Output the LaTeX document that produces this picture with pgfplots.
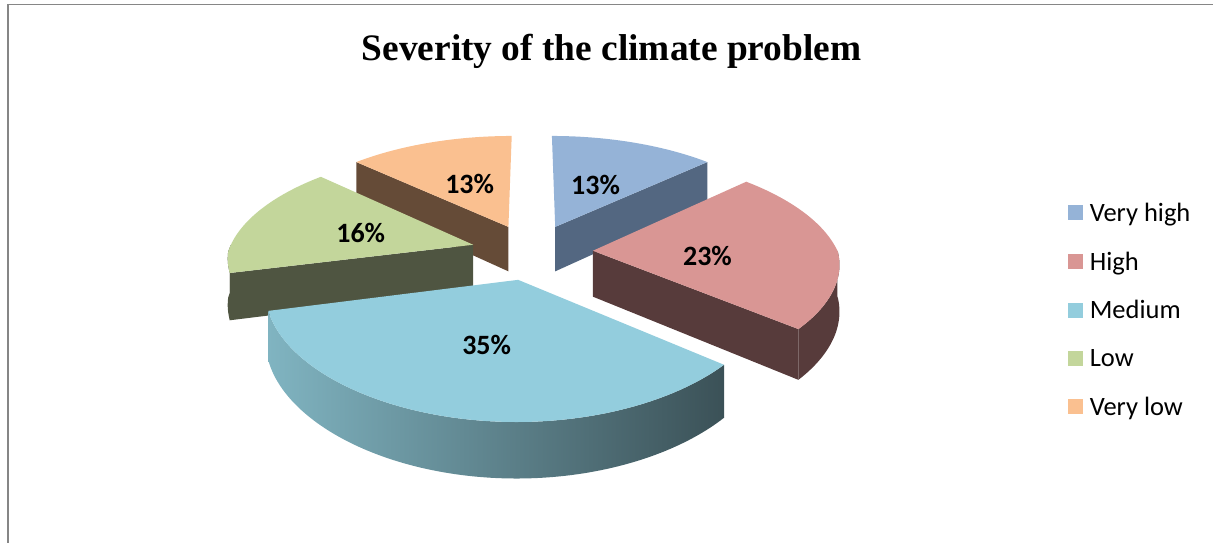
\documentclass[border=0pt]{standalone}
\usepackage{fontspec}
\setmainfont{Carlito}
\newfontfamily\titlefont{Liberation Serif}
\usepackage{pgfplots}
\usepackage{pgfplotstable}
\pgfplotsset{compat=1.18}

\definecolor{vhTop}{HTML}{95B3D7}\definecolor{vhSide}{HTML}{536781}
\definecolor{hiTop}{HTML}{D99694}\definecolor{hiSide}{HTML}{573B3B}
\definecolor{meTop}{HTML}{93CDDD}\definecolor{meLight}{HTML}{80B4C1}\definecolor{meDark}{HTML}{3B5157}
\definecolor{loTop}{HTML}{C3D69B}\definecolor{loSide}{HTML}{4F5541}
\definecolor{vlTop}{HTML}{FAC090}\definecolor{vlSide}{HTML}{654B37}
\definecolor{frameGray}{HTML}{868686}

% answers to "how severe is the climate problem?" (per cent)
\pgfplotstableread[col sep=comma]{
label,share
Very high,13
High,23
Medium,35
Low,16
Very low,13
}\severity

\pgfplotstablegetelem{0}{share}\of\severity\let\sA\pgfplotsretval
\pgfplotstablegetelem{1}{share}\of\severity\let\sB\pgfplotsretval
\pgfplotstablegetelem{2}{share}\of\severity\let\sC\pgfplotsretval
\pgfplotstablegetelem{3}{share}\of\severity\let\sD\pgfplotsretval
\pgfplotstablegetelem{4}{share}\of\severity\let\sE\pgfplotsretval

% slice boundaries, degrees clockwise from twelve o'clock
\pgfmathsetmacro\tA{0}
\pgfmathsetmacro\tB{\tA+3.6*\sA}
\pgfmathsetmacro\tC{\tB+3.6*\sB}
\pgfmathsetmacro\tD{\tC+3.6*\sC}
\pgfmathsetmacro\tE{\tD+3.6*\sD}
\pgfmathsetmacro\tF{\tE+3.6*\sE}
% slice bisectors (direction in which each slice is pulled out)
\pgfmathsetmacro\mA{(\tA+\tB)/2}
\pgfmathsetmacro\mB{(\tB+\tC)/2}
\pgfmathsetmacro\mC{(\tC+\tD)/2}
\pgfmathsetmacro\mD{(\tD+\tE)/2}
\pgfmathsetmacro\mE{(\tE+\tF)/2}

% one patch of an exploded slice, seen in perspective from above
% #1 bisector, #2 angle, #3 radius, #4 lower-edge flag, #5 style
\newcommand\piepart[5]{%
  \addplot[forget plot, draw=none, #5]
    ({px(0.25*sin(#1)+(#3)*sin(#2), 0.25*cos(#1)+(#3)*cos(#2))},
     {py(0.25*cos(#1)+(#3)*cos(#2), #4)});
}
% top face: bisector, from, to, colour
\newcommand\pietop[4]{%
  \piepart{#1}{(#2)+((#3)-(#2))*min(\t,1)}{(\t<1.005)}{0}%
    {fill=#4, domain=0:1.02, samples=103}}
% radial cut face: bisector, angle, colour
\newcommand\pieface[3]{%
  \piepart{#1}{#2}{(\t>0.5)*(\t<2.5)}{(\t>1.5)}%
    {fill=#3, samples at={0,1,2,3}}}
% outer rim: bisector, from, to, style
\newcommand\pierim[4]{%
  \piepart{#1}{(#2)+((#3)-(#2))*((\t<1.005)*min(\t,1)+(\t>1.005)*(2.01-\t))}{1}{(\t>1.005)}%
    {#4, domain=0:2.01, samples=202}}

\begin{document}
\begin{tikzpicture}
\begin{axis}[
  scale only axis, width=1214pt, height=543pt,
  xmin=0, xmax=1214, ymin=0, ymax=543, y dir=reverse,
  hide axis, clip=false, variable=\t,
  declare function={
    px(\X,\Z)=532.2+245*\X/(1+0.1*\Z+0.07*max(\Z,0));
    py(\Z,\b)=251.8+(\b*46-111.5*\Z)/(1+0.15*\Z);
  },
  legend image code/.code={\fill[#1] (0pt,-7.5pt) rectangle (15pt,7.5pt);},
  legend style={at={(axis cs:1068.6,203)}, anchor=north west,
    draw=none, fill=none, inner sep=0pt, outer sep=0pt,
    font=\fontsize{26.5}{26.5}\selectfont, row sep=29pt, column sep=7pt,
    nodes={inner sep=0pt}},
  legend cell align=left,
]
% back slices first, front slice last
\pieface{\mE}{\tE}{vlSide}
\pietop{\mE}{\tE}{\tF}{vlTop}
\pieface{\mA}{\tB}{vhSide}
\pietop{\mA}{\tA}{\tB}{vhTop}
\pierim{\mD}{\tD}{270}{fill=loSide}
\pieface{\mD}{\tD}{loSide}
\pietop{\mD}{\tD}{\tE}{loTop}
\pierim{\mB}{90}{\tC}{fill=hiSide}
\pieface{\mB}{\tC}{hiSide}
\pietop{\mB}{\tB}{\tC}{hiTop}
\pierim{\mC}{\tC}{\tD}{left color=meLight, right color=meDark}
\pietop{\mC}{\tC}{\tD}{meTop}

\addlegendimage{fill=vhTop, draw=none}\addlegendentry{Very high}
\addlegendimage{fill=hiTop, draw=none}\addlegendentry{High}
\addlegendimage{fill=meTop, draw=none}\addlegendentry{Medium}
\addlegendimage{fill=loTop, draw=none}\addlegendentry{Low}
\addlegendimage{fill=vlTop, draw=none}\addlegendentry{Very low}

% value labels
\begin{scope}[every node/.style={font=\bfseries\fontsize{28}{28}\selectfont}]
\node at (axis cs:596,185) {\sA\%};
\node at (axis cs:708,256) {\sB\%};
\node at (axis cs:487,345) {\sC\%};
\node at (axis cs:361,233) {\sD\%};
\node at (axis cs:470,184) {\sE\%};
\end{scope}

% title
\node[anchor=base, font=\titlefont\bfseries\fontsize{37.4}{37.4}\selectfont]
  at (axis cs:612,61) {Severity of the climate problem};

% chart frame
\draw[frameGray, line width=1.8pt] (axis cs:8,543) -- (axis cs:8,4.5) -- (axis cs:1214,4.5);
\path (axis cs:0,0) rectangle (axis cs:1214,543);
\end{axis}
\end{tikzpicture}
\end{document}
